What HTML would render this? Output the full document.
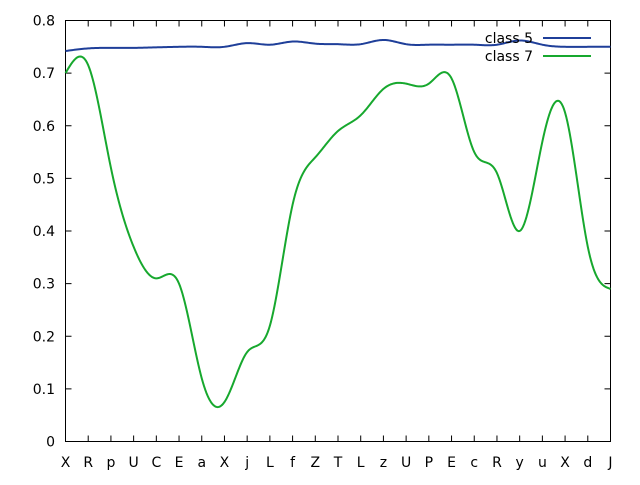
<!DOCTYPE html>
<html><head><meta charset="utf-8"><style>
html,body{margin:0;padding:0;background:#fff;}
svg text{font-family:"DejaVu Sans","Liberation Sans",sans-serif;font-size:14px;fill:#000;}
</style></head><body>
<svg id="chart" width="640" height="480" viewBox="0 0 640 480" xmlns="http://www.w3.org/2000/svg">
<g id="axes"></g><g id="series"></g><g id="legend"></g>
</svg>
<script>
const categories=["X","R","p","U","C","E","a","X","j","L","f","Z","T","L","z","U","P","E","c","R","y","u","X","d","J"];
const class5=[0.742,0.747,0.748,0.748,0.749,0.750,0.750,0.750,0.757,0.754,0.760,0.756,0.755,0.755,0.763,0.755,0.754,0.754,0.754,0.754,0.762,0.754,0.750,0.750,0.750];
const class7=[0.70,0.715,0.52,0.37,0.31,0.30,0.12,0.075,0.17,0.22,0.45,0.54,0.59,0.62,0.67,0.68,0.68,0.69,0.55,0.51,0.40,0.57,0.625,0.37,0.29];
const yTicks=[0,0.1,0.2,0.3,0.4,0.5,0.6,0.7,0.8];
const yLabels=["0","0.1","0.2","0.3","0.4","0.5","0.6","0.7","0.8"];
const seriesNames=["class 5","class 7"];
const L=65.5,R=610.5,T=20.5,B=441.5;
const NS="http://www.w3.org/2000/svg";
const xs=i=>L+(R-L)*i/(categories.length-1);
const ys=v=>B-(B-T)*v/0.8;
function mk(tag,attrs,parent){const e=document.createElementNS(NS,tag);for(const k in attrs)e.setAttribute(k,attrs[k]);parent.appendChild(e);return e;}
const axes=document.getElementById('axes');
let r=mk('rect',{x:L,y:T,width:R-L,height:B-T,fill:'none',stroke:'#000','stroke-width':1},axes);


yTicks.forEach((v,i)=>{
 const y=ys(v);
 let t=mk('path',{d:`M${L},${y}h6M${R},${y}h-6`,stroke:'#000'},axes);
 
 
 let tx=mk('text',{x:55,y:y+5,'text-anchor':'end'},axes);tx.textContent=yLabels[i];
 
 
});
categories.forEach((c,i)=>{
 const x=xs(i);
 let t=mk('path',{d:`M${x},${B}v-6M${x},${T}v6`,stroke:'#000'},axes);
 
 
 let tx=mk('text',{x:x,y:467,'text-anchor':'middle'},axes);tx.textContent=c;
 
 
});
function spline(vals){
 const n=vals.length;
 const M=new Array(n).fill(0);
 const a=[],b=[],c=[],d=[];
 for(let i=1;i<n-1;i++){a.push(1);b.push(4);c.push(1);d.push(6*(vals[i+1]-2*vals[i]+vals[i-1]));}
 const m=d.length;
 for(let i=1;i<m;i++){const w=a[i]/b[i-1];b[i]-=w*c[i-1];d[i]-=w*d[i-1];}
 const sol=new Array(m);
 sol[m-1]=d[m-1]/b[m-1];
 for(let i=m-2;i>=0;i--)sol[i]=(d[i]-c[i]*sol[i+1])/b[i];
 for(let i=0;i<m;i++)M[i+1]=sol[i];
 let path='';
 const steps=20;
 for(let i=0;i<n-1;i++){
  for(let s=(i===0?0:1);s<=steps;s++){
   const t=s/steps;
   const v=(1-t)*vals[i]+t*vals[i+1]+((Math.pow(1-t,3)-(1-t))*M[i]+(Math.pow(t,3)-t)*M[i+1])/6;
   const x=xs(i+t),y=ys(v);
   path+=(path?'L':'M')+x.toFixed(2)+','+y.toFixed(2);
  }
 }
 return path;
}
const colors=["#1f3f99","#17a82e"];
const sg=document.getElementById('series');
[class5,class7].forEach((s,k)=>{
 let p=mk('path',{d:spline(s),fill:'none',stroke:colors[k],'stroke-width':2,'stroke-linejoin':'round'},sg);
 
 
});
const lg=document.getElementById('legend');
seriesNames.forEach((n,k)=>{
 const y=38+k*18;
 let tx=mk('text',{x:533,y:y+5,'text-anchor':'end','font-size':'15'},lg);tx.textContent=n;
 
 
 let ln=mk('path',{d:`M543,${y}H591`,stroke:colors[k],'stroke-width':2},lg);
 
 
});
</script>
</body></html>
